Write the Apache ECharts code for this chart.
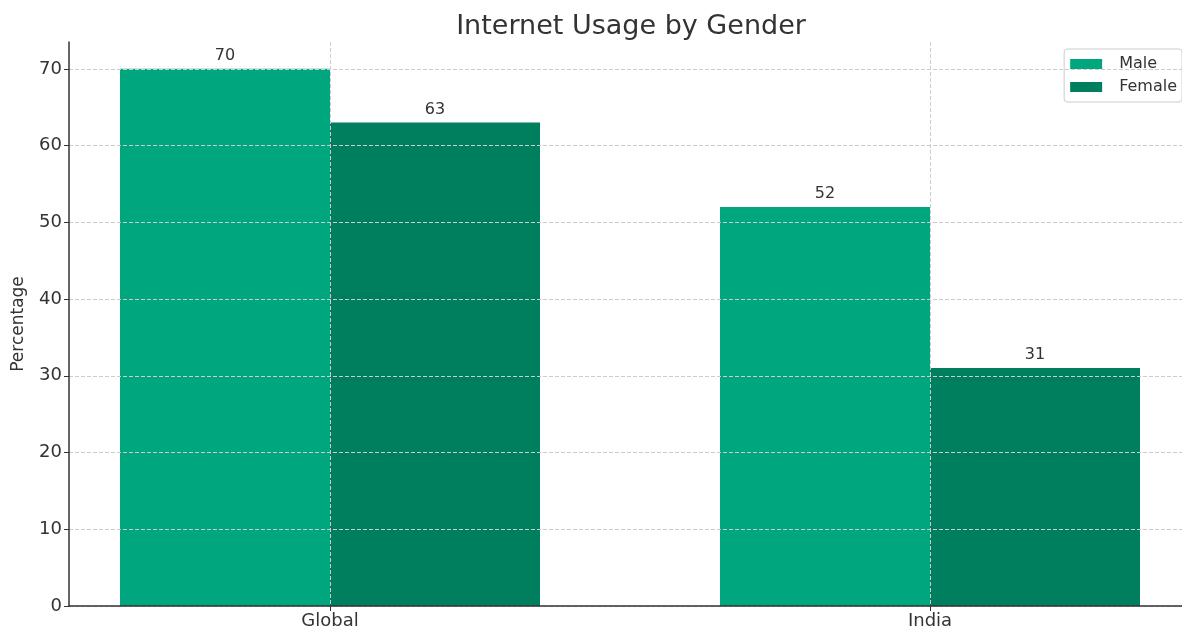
<!DOCTYPE html>
<html><head><meta charset="utf-8">
<script src="https://cdn.jsdelivr.net/npm/echarts@6/dist/echarts.min.js"></script>
<style>html,body{margin:0;padding:0;background:#fff}#c{width:1182px;height:628px}</style>
</head><body><div id="c"></div>
<script>
const categories = ['Global', 'India'];
const maleValues = [70, 52];
const femaleValues = [63, 31];
const seriesNames = ['Male', 'Female'];
const yTicks = [0, 10, 20, 30, 40, 50, 60, 70];
const catPositions = [0, 1];

const font = 'DejaVu Sans';
const chart = echarts.init(document.getElementById('c'));
const toData = vals => vals.map((v, i) => [catPositions[i], v]);
const labelCfg = {show: true, position: 'top', distance: 5, color: '#333', fontFamily: font, fontSize: 16};
chart.setOption({
  animation: false,
  title: {text: 'Internet Usage by Gender', left: 626, textAlign: 'center', top: 8,
    textStyle: {fontFamily: font, fontSize: 27, fontWeight: 'normal', color: '#333'}},
  legend: {right: 0, top: 49, orient: 'vertical', itemWidth: 32, itemHeight: 10, itemGap: 7,
    padding: [7, 5, 7, 6], borderColor: '#ccc', borderWidth: 1, borderRadius: 3,
    textStyle: {fontFamily: font, fontSize: 16, color: '#333', padding: [0, 0, 0, 12]}, icon: 'rect', data: seriesNames},
  grid: {left: 69, top: 42, width: 1122, bottom: 22, containLabel: false, outerBoundsMode: 'none'},
  xAxis: {type: 'value', min: -0.435, max: 1.435,
    axisLine: {onZero: false, lineStyle: {color: '#333', width: 1.5}},
    axisTick: {show: true, length: 5, lineStyle: {color: '#333'}, customValues: catPositions},
    axisLabel: {fontFamily: font, fontSize: 18, color: '#333', margin: 6,
      customValues: catPositions,
      formatter: v => categories[Math.round(v)] || ''},
    splitLine: {show: true, lineStyle: {type: 'dashed', color: '#ccc', width: 1}}},
  yAxis: {type: 'value', min: 0, max: 73.5,
    name: 'Percentage', nameLocation: 'middle', nameGap: 42, nameRotate: 90,
    nameTextStyle: {fontFamily: font, fontSize: 17, color: '#333'},
    axisLine: {show: true, onZero: false, lineStyle: {color: '#333', width: 1.5}},
    axisTick: {show: true, length: 5, lineStyle: {color: '#333'}, customValues: yTicks},
    axisLabel: {fontFamily: font, fontSize: 18, color: '#333', margin: 7, customValues: yTicks},
    splitLine: {show: true, lineStyle: {type: 'dashed', color: '#ccc', width: 1}}},
  series: [
    {name: seriesNames[0], type: 'bar', data: toData(maleValues), barWidth: 210, barGap: '0%', z: -1,
      itemStyle: {color: '#00a67d'}, label: labelCfg},
    {name: seriesNames[1], type: 'bar', data: toData(femaleValues), barWidth: 210, barGap: '0%', z: -1,
      itemStyle: {color: '#007f5f'}, label: labelCfg}
  ]
});
</script></body></html>
